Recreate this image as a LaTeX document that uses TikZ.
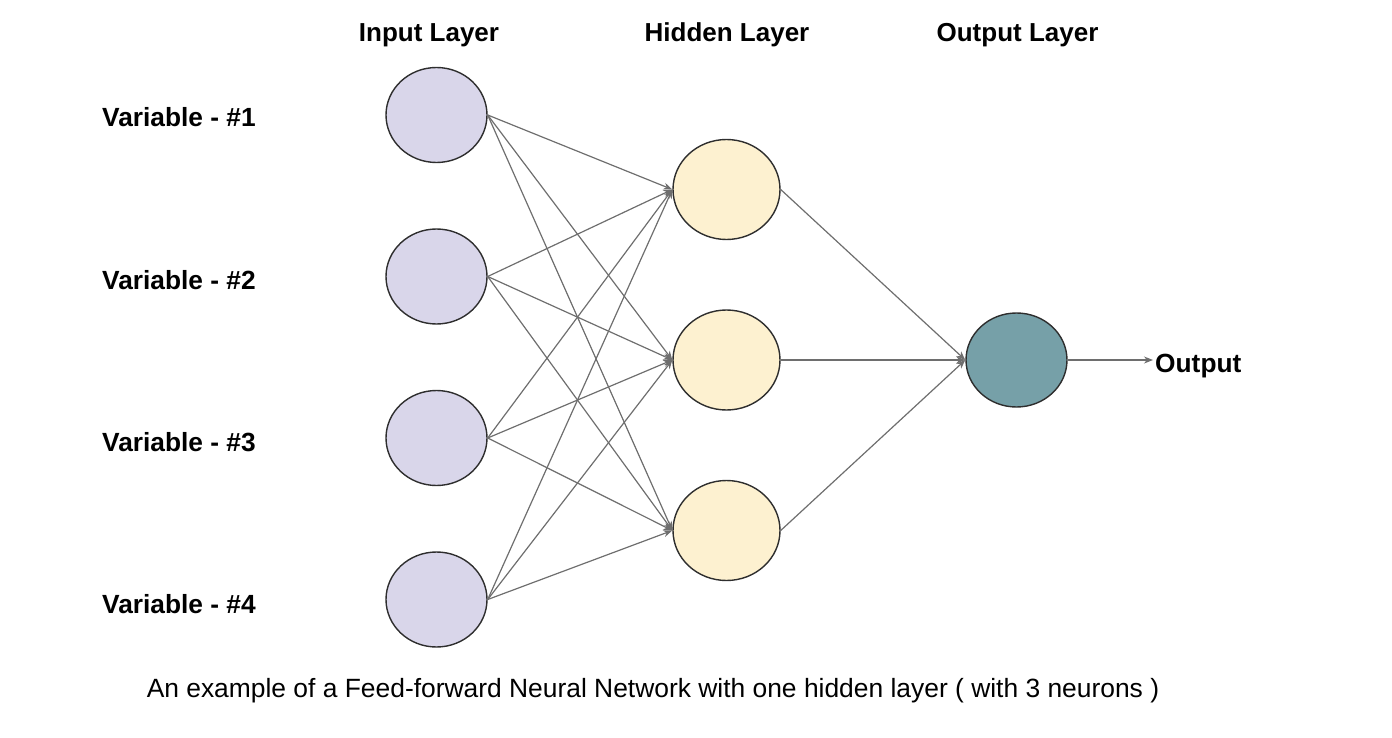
\documentclass[tikz,border=0pt]{standalone}
\usepackage{fontspec}
\setmainfont{Liberation Sans}
\usetikzlibrary{shapes.geometric,arrows.meta}
\definecolor{inputfill}{HTML}{D9D6EA}
\definecolor{hiddenfill}{HTML}{FDF1D0}
\definecolor{outfill}{HTML}{76A0A8}
\definecolor{linkgray}{HTML}{6E6E6E}
\definecolor{rimgray}{HTML}{2E2E2E}
\tikzset{
  neuron/.style={ellipse, draw=rimgray, line width=1.4pt, inner sep=0pt},
  inneuron/.style={neuron, fill=inputfill, minimum width=101pt, minimum height=95pt},
  hidneuron/.style={neuron, fill=hiddenfill, minimum width=107pt, minimum height=100pt},
  outneuron/.style={neuron, fill=outfill, minimum width=101pt, minimum height=94pt},
  link/.style={draw=linkgray, line width=1.2pt, -{Stealth[length=9pt,width=7pt]}},
  headlabel/.style={font=\fontsize{26pt}{30pt}\selectfont\bfseries, anchor=base, inner sep=0pt},
  varlabel/.style={font=\fontsize{26.3pt}{30pt}\selectfont\bfseries, anchor=base west, inner sep=0pt},
  caption/.style={font=\fontsize{26.4pt}{30pt}\selectfont, anchor=base, inner sep=0pt}
}
\begin{document}
\begin{tikzpicture}[x=1pt,y=-1pt]
\useasboundingbox (0,0) rectangle (1392,738);
% input layer
\node[inneuron] (i1) at (436.5,115) {};
\node[inneuron] (i2) at (436.5,276.5) {};
\node[inneuron] (i3) at (436.5,438) {};
\node[inneuron] (i4) at (436.5,599.5) {};
% hidden layer
\node[hidneuron] (h1) at (726.5,189.5) {};
\node[hidneuron] (h2) at (726.5,360) {};
\node[hidneuron] (h3) at (726.5,530.5) {};
% output
\node[outneuron] (o) at (1016.5,360) {};
\coordinate (oend) at (1153,360);
% labels
\node[headlabel] (tin) at (429,42) {Input Layer};
\node[headlabel] (thid) at (727,42) {Hidden Layer};
\node[headlabel] (tout) at (1017.5,42) {Output Layer};
\node[varlabel] (v1) at (102,127) {Variable - \#1};
\node[varlabel] (v2) at (102,289) {Variable - \#2};
\node[varlabel] (v3) at (102,451) {Variable - \#3};
\node[varlabel] (v4) at (102,613) {Variable - \#4};
\node[varlabel] (olab) at (1155,372) {Output};
\node[caption] (cap) at (653,697) {An example of a Feed-forward Neural Network with one hidden layer ( with 3 neurons )};
% connectors
\foreach \i in {1,2,3,4}{
  \foreach \h in {1,2,3}{
    \draw[link] (i\i.east) -- (h\h.west);
  }
}
\foreach \h in {1,2,3}{
  \draw[link] (h\h.east) -- (o.west);
}
\draw[link] (o.east) -- (oend);
\end{tikzpicture}
\end{document}
